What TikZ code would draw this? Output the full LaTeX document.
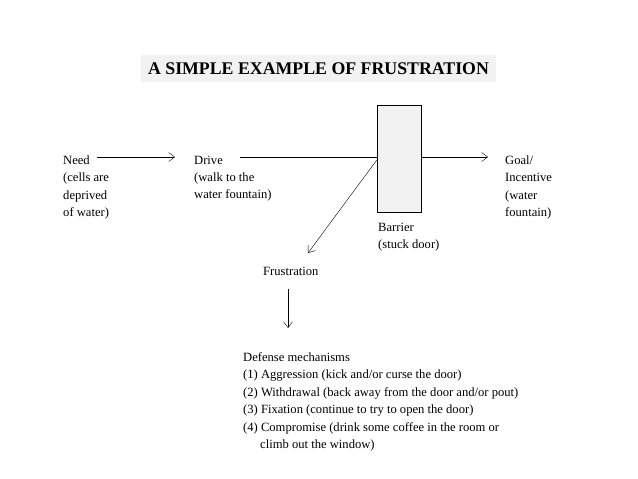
\documentclass[tikz,border=0pt]{standalone}
\usepackage{fontspec}
\setmainfont{Liberation Serif}
\usepackage{tikz}
\usetikzlibrary{arrows,arrows.meta,positioning}
\usepackage{xcolor}
\definecolor{frgray}{RGB}{242,242,242}
\tikzstyle{arrow} = [thin,-{Straight Barb[length=6pt,width=9pt]},color=black]
\tikzstyle{label} = [anchor=north west, align=left, inner sep=0pt, font=\fontsize{12.6}{17.4}\selectfont]
\begin{document}
\begin{tikzpicture}[x=1pt,y=-1pt]
\useasboundingbox (0,0) rectangle (638,479);
% Title
\node[fill=frgray, minimum width=355pt, minimum height=27pt, inner sep=0pt,
  font=\fontsize{17.8}{20}\selectfont\bfseries] (title) at (318.5,68.5) {A SIMPLE EXAMPLE OF FRUSTRATION};

% Barrier
\node[draw, fill=frgray, minimum width=44pt, minimum height=107pt, inner sep=0pt] (barrier) at (399,159) {};

% Texts
\node[label] (need) at (63,155.5) {Need\\(cells are\\deprived\\of water)};
\node[label] (drive) at (194,155.5) {Drive\\(walk to the\\water fountain)};
\node[label] (goal) at (505,155.5) {Goal/\\Incentive\\(water\\fountain)};
\node[label] (barrierlab) at (378,223) {Barrier\\(stuck door)};
\node[label] (frust) at (263,267) {Frustration};
\node[label] (defense) at (243,352.5) {Defense mechanisms\\
(1) Aggression (kick and/or curse the door)\\
(2) Withdrawal (back away from the door and/or pout)\\
(3) Fixation (continue to try to open the door)\\
(4) Compromise (drink some coffee in the room or\\
\hspace*{1.35em}climb out the window)};

% Connector ends
\coordinate (needout) at (97,157);
\coordinate (drivein) at (175,157);
\coordinate (driveout) at (240,157);
\coordinate (goalin) at (488,157);
\coordinate (frustin) at (308,253);
\coordinate (frustout) at (288,289);
\coordinate (defensein) at (288,328);

% Connections
\draw[arrow] (needout) -- (drivein);
\draw (driveout) -- (driveout -| barrier.west);
\draw[arrow] (barrier.east |- goalin) -- (goalin);
\draw[arrow] ([yshift=-3pt]barrier.west |- driveout) -- (frustin);
\draw[arrow] (frustout) -- (defensein);
\end{tikzpicture}
\end{document}
